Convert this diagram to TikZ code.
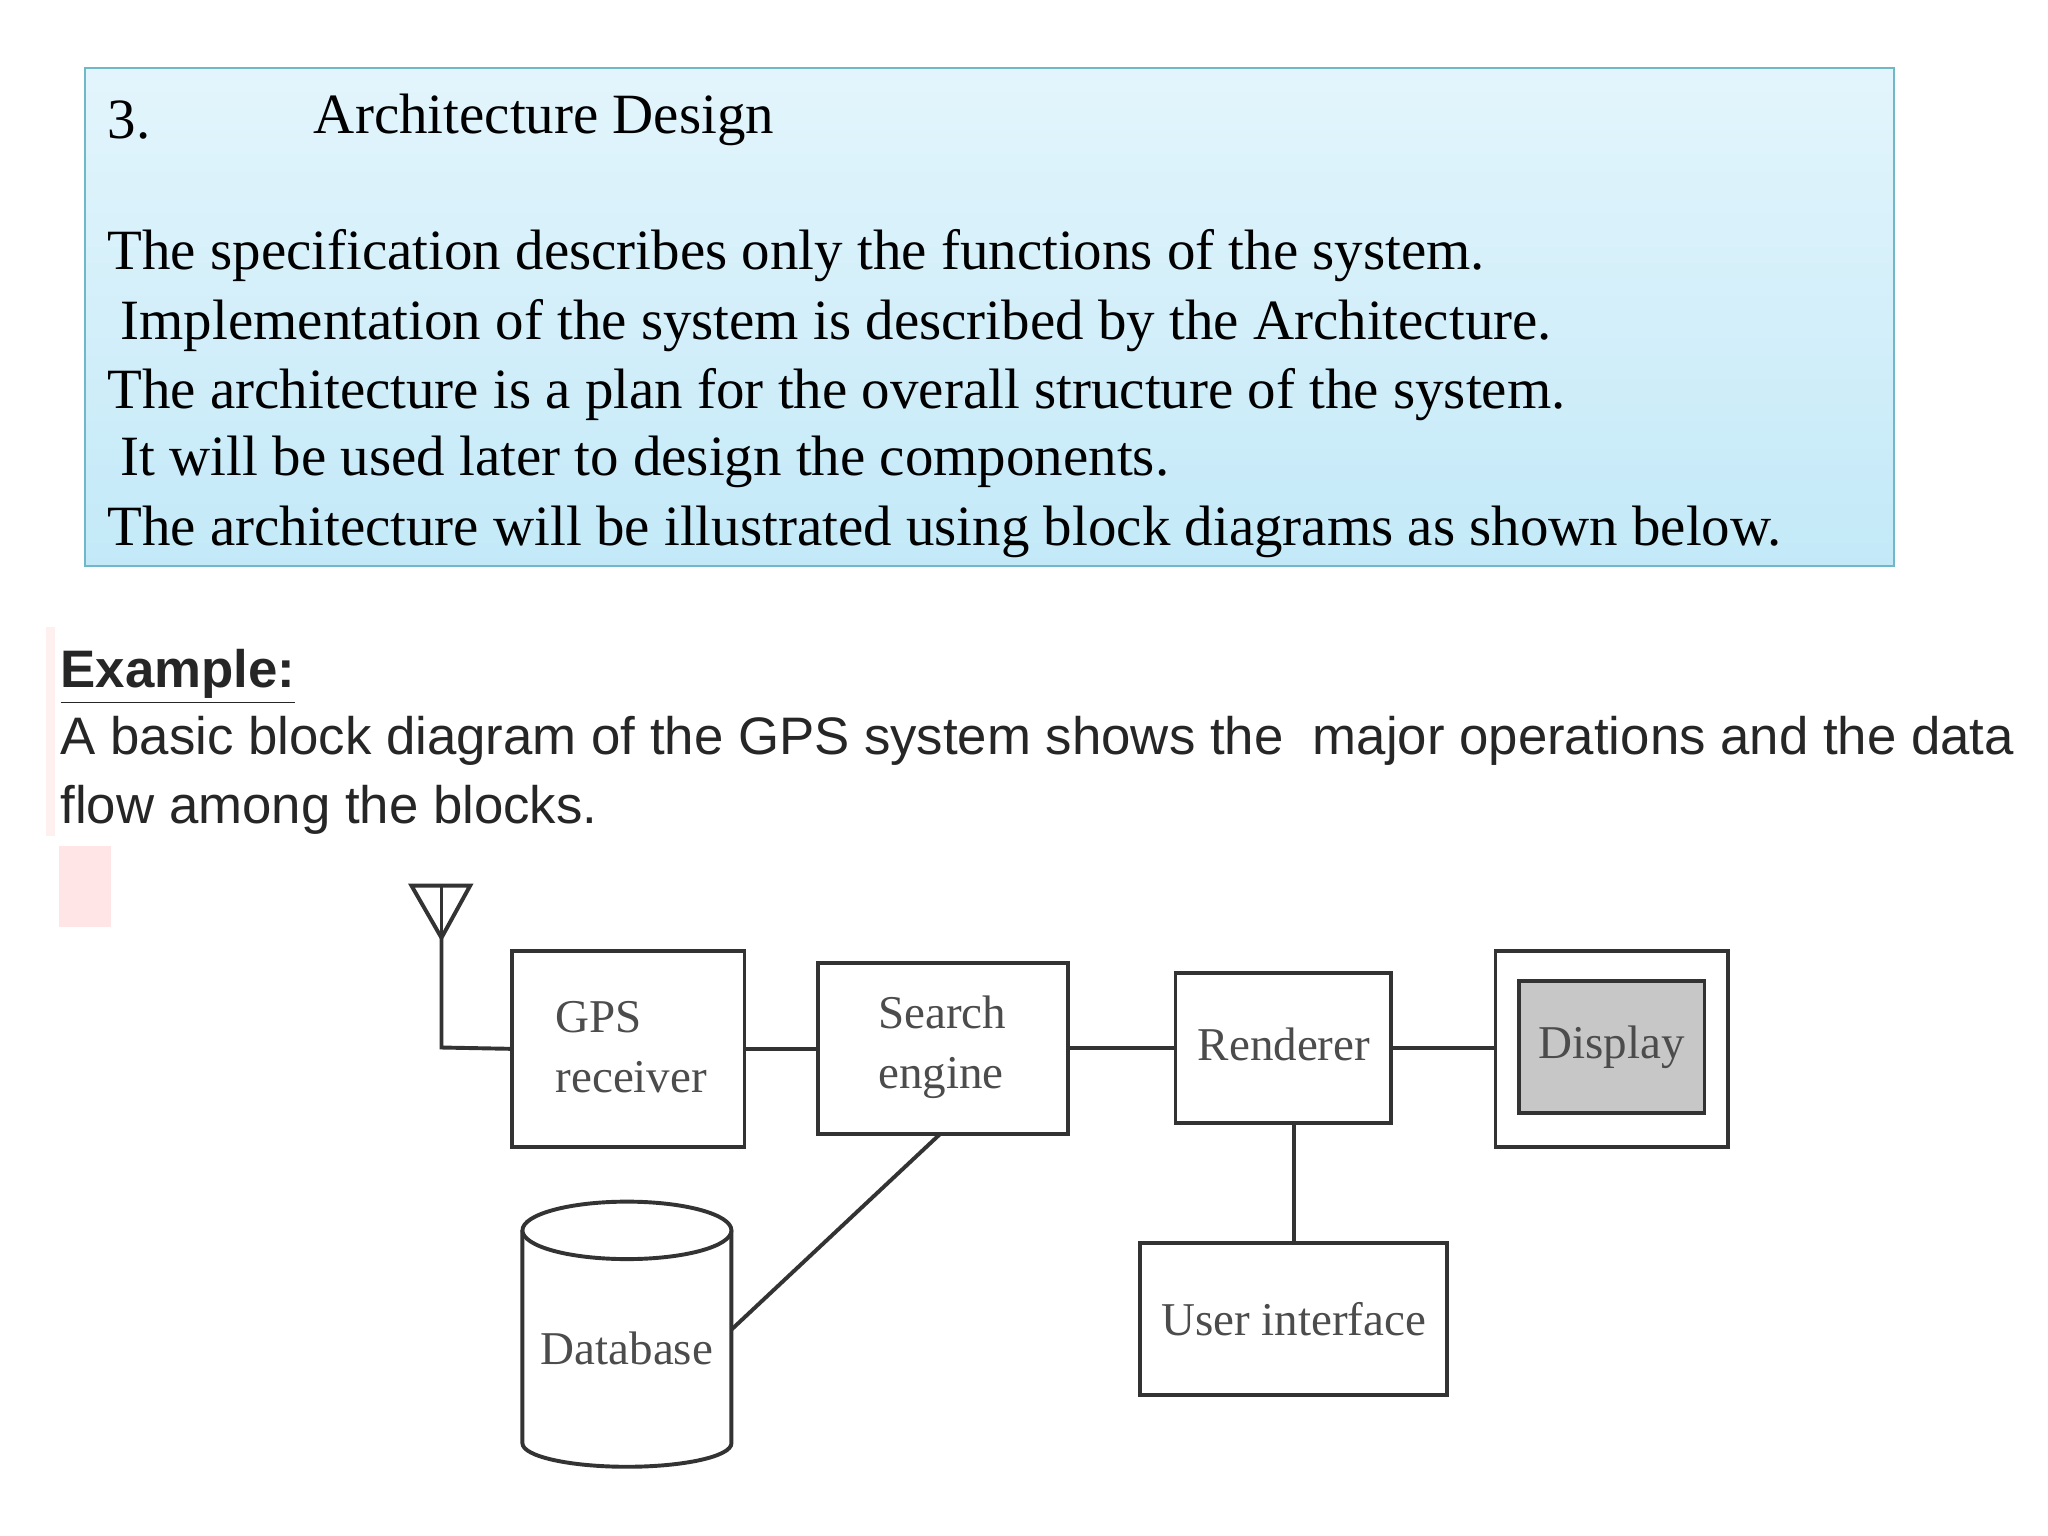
\documentclass[tikz,border=0pt]{standalone}
\usepackage{fontspec}
\setmainfont{Liberation Serif}
\newfontfamily\sansf{Liberation Sans}
\usetikzlibrary{shapes.geometric}
\definecolor{boxtop}{HTML}{E3F5FC}
\definecolor{boxbot}{HTML}{C3E9F8}
\definecolor{boxline}{HTML}{6FB8C8}
\begin{document}
\begin{tikzpicture}[x=0.5pt,y=-0.5pt,
  ln/.style={line width=1.5pt,draw=black!80},
  blk/.style={ln,fill=white,minimum height=0pt},
  para/.style={anchor=west,font=\fontsize{21.8}{26}\selectfont,inner sep=0pt},
  sline/.style={anchor=west,font=\sansf\fontsize{20.2}{24}\selectfont,text=black!85,inner sep=0pt},
  dl/.style={font=\fontsize{18}{20}\selectfont,text=black!70,inner sep=0pt}]
\useasboundingbox (0,0) rectangle (1568,1176);
\fill[white] (0,0) rectangle (1568,1176);
% header box
\shade[top color=boxtop,bottom color=boxbot] (65,52) rectangle (1450,433);
\draw[boxline,line width=0.8pt] (65,52) rectangle (1450,433);
\node[para] (n3) at (82,92) {3.};
\node[para] (ttl) at (240,92) {Architecture Design};
\node[para] (l1) at (82,196) {The specification describes only the functions of the system.};
\node[para] (l2) at (92,249) {Implementation of the system is described by the Architecture.};
\node[para] (l3) at (82,302) {The architecture is a plan for the overall structure of the system.};
\node[para] (l4) at (92,354) {It will be used later to design the components.};
\node[para] (l5) at (82,407) {The architecture will be illustrated using block diagrams as shown below.};
% faint mark
\fill[red!10] (45,648) rectangle (85,710);
\fill[red!6] (35,480) rectangle (42,640);
% example
\node[sline,font=\sansf\bfseries\fontsize{20.2}{24}\selectfont] (ex) at (46,518) {\underline{Example:}};
\node[sline] (s1) at (46,567) {A basic block diagram of the GPS system shows the\ \ major operations and the data};
\node[sline] (s2) at (46,620) {flow among the blocks.};
% diagram
\node[blk,minimum width=89pt,minimum height=75pt] (gps) at (481,803) {};
\node[dl,anchor=west,align=left] (gpst) at (425,802) {GPS\\[3pt]receiver};
\node[blk,minimum width=96pt,minimum height=65.5pt] (se) at (722,802.5) {};
\node[dl,anchor=west,align=left] (set) at (672,802) {Search\\[3pt]engine};
\node[blk,minimum width=82.5pt,minimum height=57.5pt] (rd) at (982.5,802.5) {};
\node[dl] (rdt) at (983,800) {Renderer};
\node[blk,minimum width=89pt,minimum height=75pt] (dsp) at (1234,803) {};
\node[ln,fill=black!22,minimum width=71pt,minimum height=50.5pt,dl,text=black!70] (dsi) at (1234,801.5) {Display};
\node[blk,minimum width=117.5pt,minimum height=58pt,dl] (ui) at (990.5,1010) {User interface};
% antenna
\coordinate (ant) at (338,718);
\coordinate (ac) at (338,802);
\draw[ln] (315,678) -- (360,678) -- (ant) -- cycle;
\draw[ln] (338,678) -- (ant);
\draw[ln] (ant) -- (ac) -- (gps.west);
\draw[ln] (gps.east) -- (se.west |- gps.east);
\draw[ln] (se.east |- rd.west) -- (rd.west);
\draw[ln] (rd.east) -- (dsp.west |- rd.east);
\draw[ln] (rd.south -| ui.north) -- (ui.north);
% database
\draw[ln,fill=white] (400,942) -- (400,1105) arc[start angle=180,end angle=360,x radius=80,y radius=-18] -- (560,942);
\draw[ln,fill=white] (480,942) ellipse[x radius=80,y radius=-22];
\node[dl] (db) at (480,1032) {Database};
\coordinate (dbr) at (560,1018);
\coordinate (seb) at (720,868);
\draw[ln] (seb) -- (dbr);
\end{tikzpicture}
\end{document}
